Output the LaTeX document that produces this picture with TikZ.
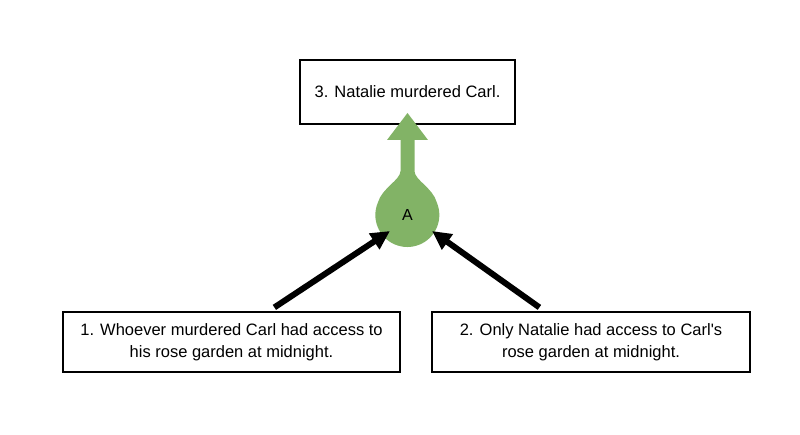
\documentclass[tikz,border=0pt]{standalone}
\usepackage{fontspec}
\setmainfont{Liberation Sans}
\usetikzlibrary{arrows.meta,calc}
\definecolor{tdgreen}{HTML}{82B366}
\tikzset{
  claim/.style={draw=black,line width=1.2pt,fill=white,align=center,inner sep=0pt,font=\fontsize{16.5}{22}\selectfont},
  support/.style={line width=6pt,-{Triangle[length=19pt,width=18pt]}},
}
\begin{document}
\begin{tikzpicture}[x=1pt,y=1pt]
\useasboundingbox (0,0) rectangle (800,434);
% nodes
\node[claim,minimum width=215pt,minimum height=64pt] (c3) at (407.5,342) {3. Natalie murdered Carl.};
\node[claim,minimum width=337pt,minimum height=60pt] (c1) at (231.5,92) {1. Whoever murdered Carl had access to\\his rose garden at midnight.};
\node[claim,minimum width=318pt,minimum height=60pt] (c2) at (591,92) {2. Only Natalie had access to Carl\textquotesingle s\\rose garden at midnight.};
% teardrop inference
\fill[tdgreen] (400.5,294) -- (400.5,263)
  .. controls (400.5,254) and (382,246) .. (377.9,231.5)
  arc[start angle=157,end angle=383,radius=32]
  .. controls (433,246) and (414.5,254) .. (414.5,263)
  -- (414.5,294) -- (428,294) -- (407.5,321) -- (387,294) -- cycle;
\node[circle,minimum size=64pt,inner sep=0pt,font=\fontsize{16}{18}\selectfont] (A) at (407.5,219) {A};
% connectors
\coordinate (s1) at ($(c1.north west)+(212,4)$);
\coordinate (s2) at ($(c2.north west)+(108,4)$);
\coordinate (t1) at ($(A.center)+(-17.5,-16)$);
\coordinate (t2) at ($(A.center)+(24.5,-16)$);
\draw[support] (s1) -- (t1);
\draw[support] (s2) -- (t2);
\end{tikzpicture}
\end{document}
